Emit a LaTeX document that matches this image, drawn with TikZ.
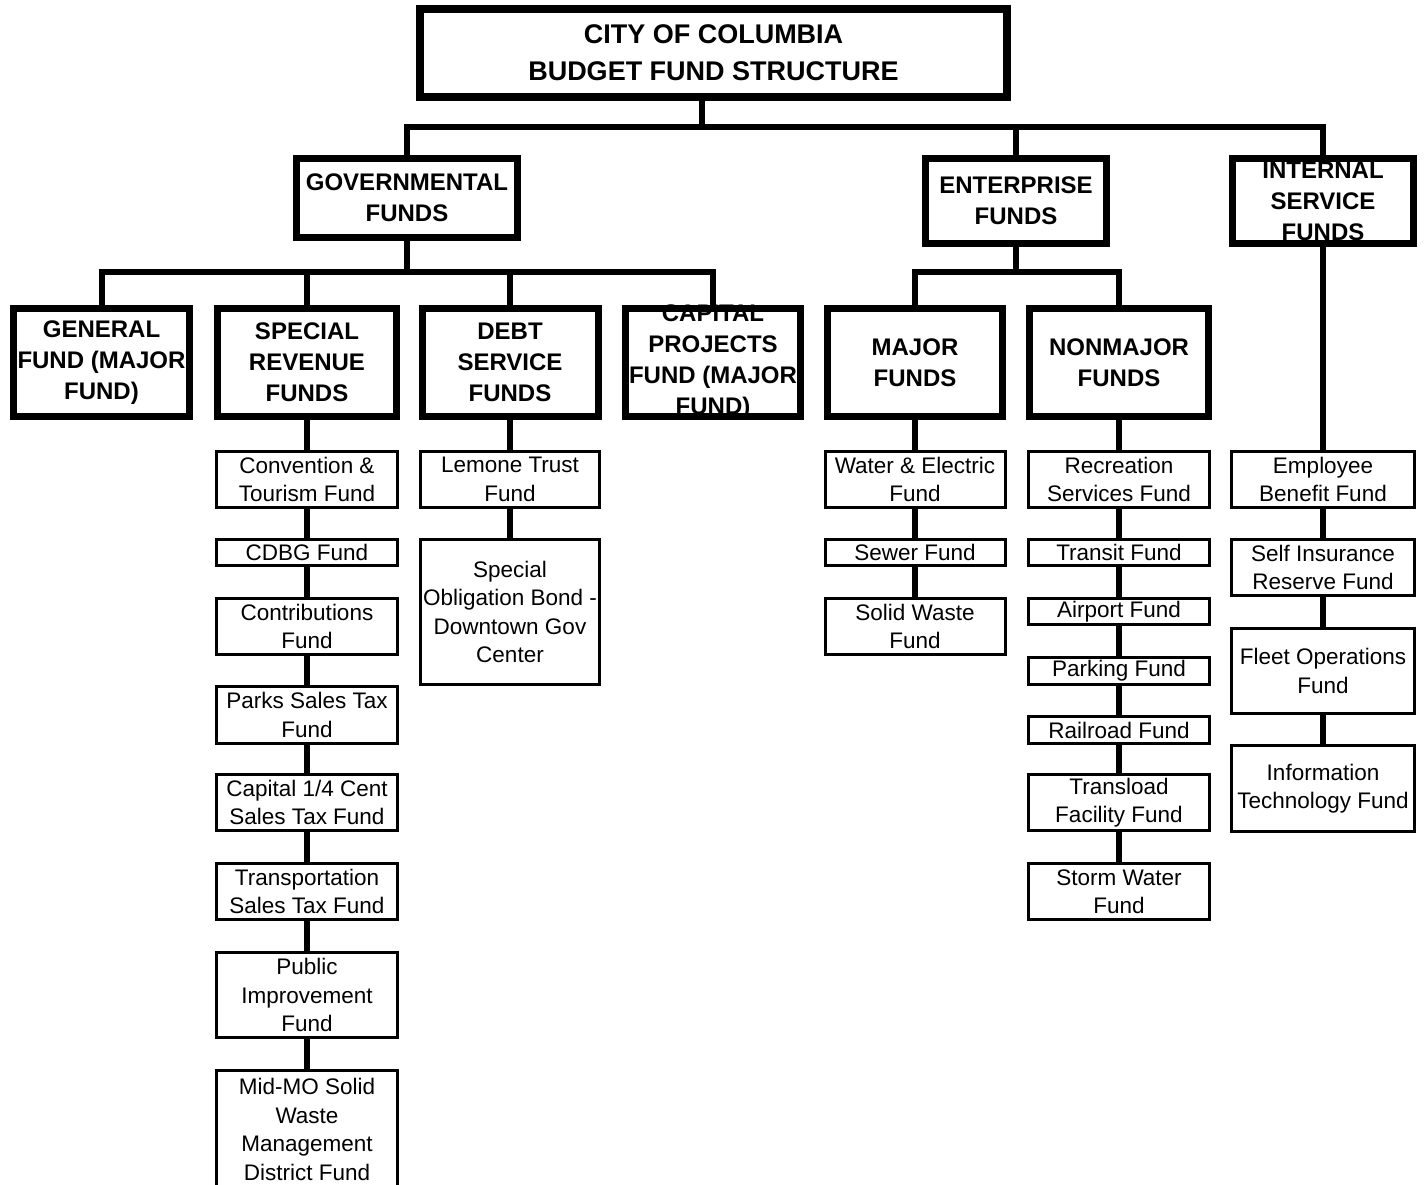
\documentclass[tikz,border=0pt]{standalone}
\usepackage{fontspec}
\setmainfont{Liberation Sans}
\usetikzlibrary{positioning}

\tikzset{
  hd/.style={draw, line width=7pt, inner sep=0pt},
  fd/.style={draw, line width=3pt, inner sep=0pt},
  hdtxt/.style={font=\fontsize{24}{31}\selectfont\bfseries, align=center, inner sep=0pt},
  fdtxt/.style={font=\fontsize{22.5}{28.5}\selectfont, align=center, inner sep=0pt},
  conn/.style={line width=6pt}
}

\begin{document}
\begin{tikzpicture}[x=1pt, y=-1pt]
  \useasboundingbox (0,0) rectangle (1426,1184);
  % titulo
  \node[draw, line width=8pt, minimum width=587pt, minimum height=88pt,
        label={[font=\fontsize{27}{37}\selectfont\bfseries, align=center]center:CITY OF COLUMBIA\\BUDGET FUND STRUCTURE}]
        (title) at (713.5,53) {};
  % primer nivel
  \node[hd, minimum width=221pt, minimum height=79pt, label={[hdtxt]center:GOVERNMENTAL\\FUNDS}] (gov) at (407,198) {};
  \node[hd, minimum width=181pt, minimum height=85pt, label={[hdtxt]center:ENTERPRISE\\FUNDS}] (ent) at (1016,201) {};
  \node[hd, minimum width=181pt, minimum height=85pt, label={[hdtxt]center:INTERNAL\\SERVICE\\FUNDS}] (isf) at (1323,201) {};
  % segundo nivel
  \node[hd, minimum width=176pt, minimum height=108pt, label={[hdtxt]center:GENERAL\\FUND (MAJOR\\FUND)}] (gen) at (101.5,362.5) {};
  \node[hd, minimum width=179pt, minimum height=108pt, label={[hdtxt]center:SPECIAL\\REVENUE\\FUNDS}] (srf) at (307,362.5) {};
  \node[hd, minimum width=176pt, minimum height=108pt, label={[hdtxt]center:DEBT\\SERVICE\\FUNDS}] (dsf) at (510,362.5) {};
  \node[hd, minimum width=175pt, minimum height=108pt, label={[hdtxt]center:CAPITAL\\PROJECTS\\FUND (MAJOR\\FUND)}] (cpf) at (713,362.5) {};
  \node[hd, minimum width=175pt, minimum height=108pt, label={[hdtxt]center:MAJOR\\FUNDS}] (maj) at (915,362.5) {};
  \node[hd, minimum width=179pt, minimum height=108pt, label={[hdtxt]center:NONMAJOR\\FUNDS}] (nmj) at (1119,362.5) {};
  % fondos: nombre/y centro/alto/texto
  \foreach \n/\yc/\h/\t in {s1/479.5/56/{Convention \&\\Tourism Fund}, s2/552.5/26/{CDBG Fund},
      s3/626.5/56/{Contributions\\Fund}, s4/715/57/{Parks Sales Tax\\Fund},
      s5/802.5/56/{Capital 1/4 Cent\\Sales Tax Fund}, s6/891.5/56/{Transportation\\Sales Tax Fund},
      s7/995/85/{Public\\Improvement\\Fund}, s8/1129.5/118/{Mid-MO Solid\\Waste\\Management\\District Fund}}
    \node[fd, minimum width=181pt, minimum height=\h pt, label={[fdtxt]center:\t}] (\n) at (307,\yc) {};
  \foreach \n/\yc/\h/\t in {d1/479.5/56/{Lemone Trust\\Fund}, d2/612/145/{Special\\Obligation Bond -\\Downtown Gov\\Center}}
    \node[fd, minimum width=179pt, minimum height=\h pt, label={[fdtxt]center:\t}] (\n) at (510,\yc) {};
  \foreach \n/\yc/\h/\t in {m1/479.5/56/{Water \& Electric\\Fund}, m2/552.5/26/{Sewer Fund}, m3/626.5/56/{Solid Waste\\Fund}}
    \node[fd, minimum width=180pt, minimum height=\h pt, label={[fdtxt]center:\t}] (\n) at (915,\yc) {};
  \foreach \n/\yc/\h/\t in {n1/479.5/56/{Recreation\\Services Fund}, n2/552.5/26/{Transit Fund},
      n3/611.5/26/{Airport Fund}, n4/671/27/{Parking Fund}, n5/730/27/{Railroad Fund},
      n6/802.5/56/{Transload\\Facility Fund}, n7/891.5/56/{Storm Water\\Fund}}
    \node[fd, minimum width=181pt, minimum height=\h pt, label={[fdtxt]center:\t}] (\n) at (1119,\yc) {};
  \foreach \n/\yc/\h/\t in {i1/479.5/56/{Employee\\Benefit Fund}, i2/567.5/56/{Self Insurance\\Reserve Fund},
      i3/671/85/{Fleet Operations\\Fund}, i4/788.5/86/{Information\\Technology Fund}}
    \node[fd, minimum width=183pt, minimum height=\h pt, label={[fdtxt]center:\t}] (\n) at (1323,\yc) {};
  % conectores
  \coordinate (bus0) at (702,126.5);
  \coordinate (bus1) at (407,272);
  \coordinate (bus2) at (1016,272);
  \draw[conn] (title.south -| bus0) -- (bus0);
  \draw[conn] (gov.north) |- (bus0) -| (isf.north);
  \draw[conn] (ent.north) -- (ent.north |- bus0);
  \draw[conn] (gov.south) -- (bus1);
  \draw[conn] (gen.north) |- (bus1) -| (cpf.north);
  \draw[conn] (srf.north) -- (srf.north |- bus1);
  \draw[conn] (dsf.north) -- (dsf.north |- bus1);
  \draw[conn] (ent.south) -- (bus2);
  \draw[conn] (maj.north) |- (bus2) -| (nmj.north);
  \foreach \a/\b in {srf/s1, s1/s2, s2/s3, s3/s4, s4/s5, s5/s6, s6/s7, s7/s8,
      dsf/d1, d1/d2, maj/m1, m1/m2, m2/m3,
      nmj/n1, n1/n2, n2/n3, n3/n4, n4/n5, n5/n6, n6/n7,
      isf/i1, i1/i2, i2/i3, i3/i4}
    \draw[conn] (\a.south) -- (\b.north);
\end{tikzpicture}
\end{document}
